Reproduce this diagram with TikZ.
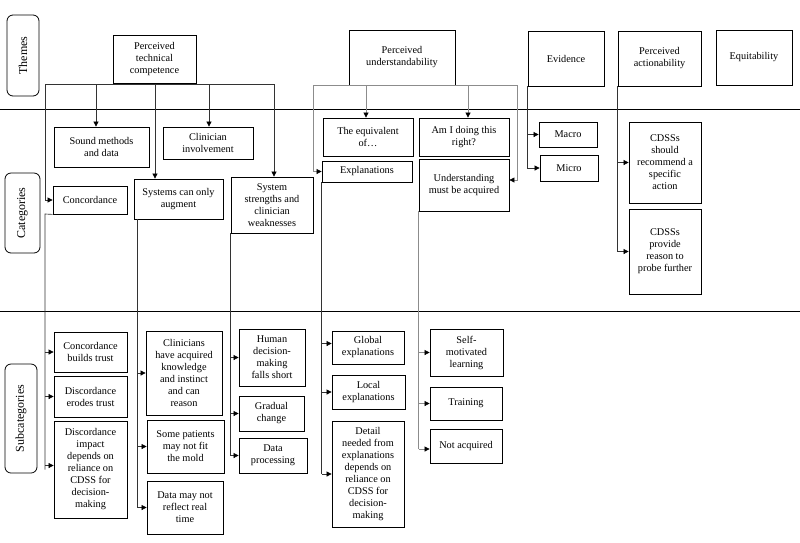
\documentclass[tikz,border=0pt]{standalone}
\usepackage{fontspec}
\setmainfont{Liberation Serif}
\usetikzlibrary{arrows.meta}
\tikzset{
  box/.style={draw, line width=0.8pt, inner sep=1pt, align=center, font=\fontsize{10.3}{12}\selectfont},
  lab/.style={draw, line width=0.8pt, rounded corners=6pt, rotate=90, inner sep=1pt, font=\fontsize{12}{14}\selectfont},
  conn/.style={draw=black!80, line width=0.65pt},
  lconn/.style={draw=black!45, line width=0.65pt},
  tip/.style={-{Triangle[length=5pt,width=5pt,color=black]}},
  sep/.style={line width=0.8pt}
}
\newcommand{\bx}[6]{\node[box, minimum width={(#4-#2)*1pt}, minimum height={(#5-#3)*1pt}] (#1) at ({(#2+#4)/2},{(#3+#5)/2}) {#6};}
\begin{document}
\begin{tikzpicture}[x=1pt,y=-1pt]
\useasboundingbox (0,0) rectangle (800,542);
% separators
\coordinate (s1l) at (0,109); \coordinate (s1r) at (800,109);
\coordinate (s2l) at (0,311); \coordinate (s2r) at (800,311);
\draw[sep] (s1l) -- (s1r);
\draw[sep] (s2l) -- (s2r);
% row labels
\node[lab, minimum width=81pt, minimum height=32pt] (themes) at (23,55.5) {Themes};
\node[lab, minimum width=80pt, minimum height=35pt] (cats) at (22.5,213) {Categories};
\node[lab, minimum width=109pt, minimum height=32pt] (subs) at (21,418.5) {Subcategories};
% themes
\bx{ptc}{113}{35}{196}{83}{Perceived\\technical\\competence}
\bx{pu}{349}{30}{455}{85}{Perceived\\understandability}
\bx{ev}{528}{31}{604}{86}{Evidence}
\bx{act}{618}{31}{701}{86}{Perceived\\actionability}
\bx{eq}{716}{30}{792}{85}{Equitability}
% categories
\bx{sound}{54}{127}{149}{167}{Sound methods\\and data}
\bx{clin}{163}{127}{253}{159}{Clinician\\involvement}
\bx{conc}{53}{186}{127}{214}{Concordance}
\bx{aug}{134}{179}{223}{219}{Systems can only\\augment}
\bx{str}{231}{177}{313}{233}{System\\strengths and\\clinician\\weaknesses}
\bx{equiv}{323}{118}{413}{156}{The equivalent\\of…}
\bx{expl}{322}{161}{412}{182}{Explanations}
\bx{ami}{419}{118}{509}{156}{Am I doing this\\right?}
\bx{und}{419}{159}{509}{211}{Understanding\\must be acquired}
\bx{macro}{539}{122}{597}{147}{Macro}
\bx{micro}{540}{155}{598}{181}{Micro}
\bx{rec}{629}{122}{701}{203}{CDSSs\\should\\recommend a\\specific\\action}
\bx{probe}{629}{209}{701}{294}{CDSSs\\provide\\reason to\\probe further}
% subcategories
\bx{cbt}{54}{332}{127}{372}{Concordance\\builds trust}
\bx{det}{54}{376}{127}{417}{Discordance\\erodes trust}
\bx{imp}{54}{421}{127}{518}{Discordance\\impact\\depends on\\reliance on\\CDSS for\\decision-\\making}
\bx{cl}{146}{331}{222}{415}{Clinicians\\have acquired\\knowledge\\and instinct\\and can\\reason}
\bx{sp}{147}{420}{224}{473}{Some patients\\may not fit\\the mold}
\bx{dm}{147}{481}{223}{534}{Data may not\\reflect real\\time}
\bx{hd}{239}{329}{305}{386}{Human\\decision-\\making\\falls short}
\bx{gc}{239}{396}{304}{431}{Gradual\\change}
\bx{dp}{239}{438}{307}{473}{Data\\processing}
\bx{ge}{332}{331}{404}{364}{Global\\explanations}
\bx{le}{332}{375}{405}{409}{Local\\explanations}
\bx{dn}{332}{421}{404}{527}{Detail\\needed from\\explanations\\depends on\\reliance on\\CDSS for\\decision-\\making}
\bx{sm}{430}{329}{503}{376}{Self-\\motivated\\learning}
\bx{tr}{430}{387}{502}{420}{Training}
\bx{na}{430}{429}{502}{463}{Not acquired}
% --- theme -> category connectors
% perceived technical competence
\coordinate (pa) at (45,84); \coordinate (pb) at (96,84); \coordinate (pc) at (155,84);
\coordinate (pd) at (209,84); \coordinate (pe) at (274,84);
\draw[conn] (pa) -- (pe);
\draw[conn,tip] (pa) |- (conc.west);
\draw[conn,tip] (pb) -- (pb |- sound.north);
\draw[conn,tip] (pc) -- (pc |- aug.north);
\draw[conn,tip] (pd) -- (pd |- clin.north);
\draw[conn,tip] (pe) -- (pe |- str.north);
% perceived understandability
\coordinate (ua) at (313,85); \coordinate (ub) at (366,85); \coordinate (uc) at (468,85);
\coordinate (ud) at (517,85);
\draw[lconn] (ua) -- (ud);
\draw[lconn,tip] (ua) |- (expl.west);
\draw[lconn,tip] (ub) -- (ub |- equiv.north);
\draw[lconn,tip] (uc) -- (uc |- ami.north);
\draw[lconn,tip] (ud) |- ([yshift=5pt]und.east);
% evidence
\draw[conn,tip] (ev.south west) |- (macro.west);
\draw[conn,tip] (ev.south west) |- (micro.west);
% actionability
\draw[conn,tip] (act.south west) |- (rec.west);
\draw[conn,tip] (act.south west) |- (probe.west);
% --- category -> subcategory connectors
% concordance
\coordinate (tc) at (45,214);
\draw[conn] (conc.south west) -- (tc) -- (tc |- imp.west);
\draw[conn,tip] (tc |- cbt.west) -- (cbt.west);
\draw[conn,tip] (tc |- det.west) -- (det.west);
\draw[conn,tip] ([yshift=4pt]tc |- imp.west) -- ([yshift=4pt]imp.west);
% systems can only augment
\coordinate (ta) at (137,219);
\draw[conn] (ta) -- (ta |- dm.west);
\draw[conn,tip] (ta |- cl.west) -- (cl.west);
\draw[conn,tip] (ta |- sp.west) -- (sp.west);
\draw[conn,tip] (ta |- dm.west) -- (dm.west);
% system strengths
\draw[conn] (str.south west) -- (str.south west |- dp.west);
\draw[conn,tip] (str.south west |- hd.west) -- (hd.west);
\draw[conn,tip] (str.south west |- gc.west) -- (gc.west);
\draw[conn,tip] (str.south west |- dp.west) -- (dp.west);
% explanations
\draw[conn] (expl.south west) -- (expl.south west |- dn.west);
\draw[conn,tip] ([yshift=4pt]expl.south west |- ge.west) -- ([yshift=4pt]ge.west);
\draw[conn,tip] (expl.south west |- le.west) -- (le.west);
\draw[conn,tip] (expl.south west |- dn.west) -- (dn.west);
% understanding must be acquired
\draw[lconn] (und.south west) -- ([yshift=-3pt]und.south west |- na.west);
\draw[lconn,tip] (und.south west |- sm.west) -- (sm.west);
\draw[lconn,tip] (und.south west |- tr.west) -- (tr.west);
\draw[lconn,tip] ([yshift=-3pt]und.south west |- na.west) -- ([yshift=-3pt]na.west);
\end{tikzpicture}
\end{document}
